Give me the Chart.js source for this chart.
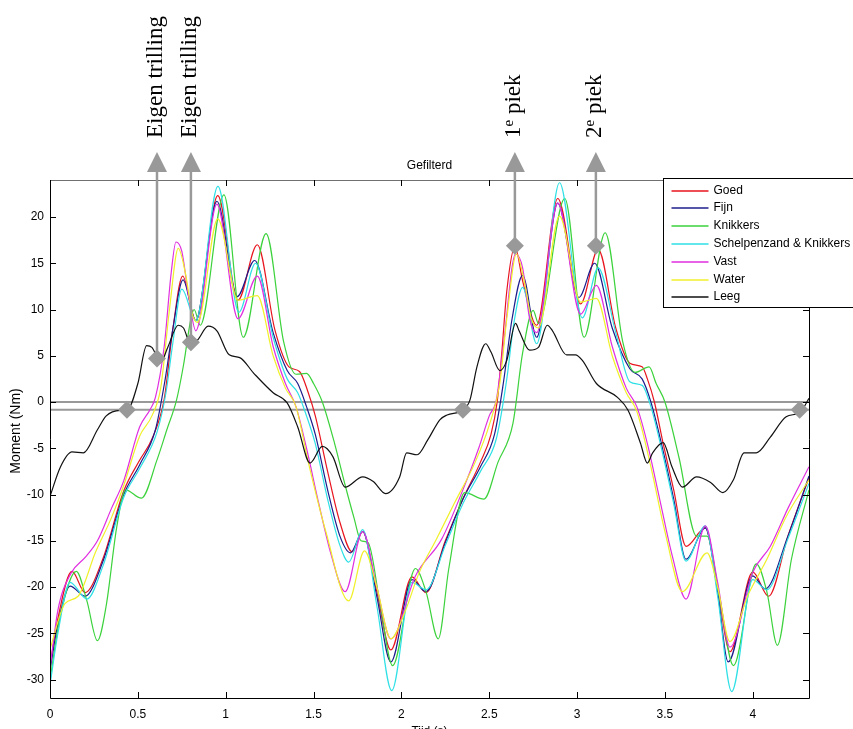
<!DOCTYPE html>
<html>
<head>
<meta charset="utf-8">
<title>Gefilterd</title>
<script src="https://cdn.jsdelivr.net/npm/chart.js@4.4.0/dist/chart.umd.min.js"></script>
<style>
  html, body { margin: 0; padding: 0; background: #fff; }
  #wrap { width: 853px; height: 729px; position: relative; }
</style>
</head>
<body>
<div id="wrap"><canvas id="moment"></canvas></div>
<script>
// Tijd (s) / moment (Nm) per meting
const goedT = [0, 0.045, 0.125, 0.20, 0.30, 0.42, 0.51, 0.58, 0.65, 0.70, 0.755, 0.83, 0.955, 1.07, 1.18, 1.28, 1.36, 1.42, 1.47, 1.51, 1.58, 1.65, 1.72, 1.78, 1.86, 1.94, 2.06, 2.14, 2.25, 2.35, 2.45, 2.51, 2.545, 2.57, 2.60, 2.646, 2.69, 2.75, 2.77, 2.89, 3.02, 3.12, 3.22, 3.30, 3.37, 3.40, 3.44, 3.49, 3.55, 3.62, 3.73, 3.80, 3.87, 4.00, 4.09, 4.20, 4.32];
const goedV = [-28.5, -23.4, -18.3, -20.6, -17.0, -9.6, -6.3, -4.0, 0.3, 8.0, 13.6, 8.8, 22.3, 11.0, 17.0, 7.8, 3.8, 3.3, 1.0, -1.5, -7.5, -13.0, -16.2, -14.0, -20.5, -26.8, -18.9, -20.6, -15.0, -10.5, -6.5, -3.5, 0.0, 5.0, 12.0, 16.8, 13.1, 8.8, 8.3, 22.0, 10.6, 16.5, 8.0, 4.2, 3.8, 2.5, 0.0, -4.5, -9.5, -15.6, -13.6, -20.0, -27.0, -18.4, -21.0, -14.5, -8.2];

const fijnT = [0, 0.045, 0.114, 0.20, 0.30, 0.42, 0.51, 0.60, 0.655, 0.70, 0.757, 0.83, 0.95, 1.065, 1.165, 1.27, 1.35, 1.41, 1.46, 1.51, 1.58, 1.65, 1.71, 1.78, 1.86, 1.94, 2.06, 2.14, 2.25, 2.35, 2.45, 2.53, 2.58, 2.63, 2.69, 2.77, 2.89, 3.01, 3.10, 3.20, 3.30, 3.37, 3.42, 3.48, 3.55, 3.62, 3.73, 3.80, 3.86, 4.00, 4.07, 4.20, 4.32];
const fijnV = [-29.0, -24.0, -19.9, -21.0, -17.3, -10.0, -6.8, -3.0, 2.4, 8.0, 13.2, 8.8, 21.7, 11.4, 15.3, 7.5, 3.4, 2.0, -0.5, -3.5, -9.5, -14.5, -16.3, -14.0, -21.0, -28.1, -19.2, -20.5, -15.2, -10.5, -7.0, -3.5, 2.0, 9.0, 13.7, 7.0, 21.5, 11.3, 15.0, 8.0, 3.6, 2.5, 0.0, -4.5, -10.5, -17.0, -13.6, -20.5, -28.1, -18.8, -20.2, -14.5, -8.0];

const knikkersT = [0, 0.06, 0.15, 0.21, 0.27, 0.32, 0.38, 0.43, 0.52, 0.61, 0.665, 0.72, 0.76, 0.80, 0.82, 0.855, 0.99, 1.10, 1.23, 1.33, 1.40, 1.46, 1.50, 1.55, 1.62, 1.68, 1.73, 1.77, 1.81, 1.88, 1.95, 2.08, 2.14, 2.21, 2.27, 2.36, 2.47, 2.55, 2.635, 2.69, 2.75, 2.78, 2.93, 3.04, 3.16, 3.26, 3.33, 3.41, 3.45, 3.50, 3.58, 3.68, 3.74, 3.81, 3.89, 4.02, 4.08, 4.14, 4.22, 4.32];
const knikkersV = [-30.0, -23.0, -18.3, -21.5, -25.8, -22.0, -13.5, -9.5, -10.4, -6.2, -3.0, 0.2, 4.0, 8.8, 10.0, 8.3, 22.4, 7.0, 18.2, 6.5, 3.0, 3.1, 2.0, 0.0, -4.5, -9.0, -12.5, -15.0, -15.2, -22.0, -28.5, -18.0, -20.5, -25.6, -18.0, -9.8, -10.5, -6.5, -2.3, 5.3, 9.9, 8.5, 22.0, 7.0, 18.3, 6.5, 3.2, 3.8, 2.0, 0.0, -6.0, -14.5, -14.5, -21.0, -28.5, -17.5, -20.5, -26.3, -17.0, -9.5];

const schelpT = [0, 0.045, 0.114, 0.21, 0.30, 0.42, 0.51, 0.61, 0.66, 0.70, 0.75, 0.83, 0.956, 1.075, 1.17, 1.27, 1.35, 1.41, 1.46, 1.51, 1.58, 1.65, 1.70, 1.78, 1.86, 1.945, 2.06, 2.14, 2.25, 2.35, 2.45, 2.54, 2.60, 2.64, 2.69, 2.77, 2.90, 3.03, 3.12, 3.22, 3.30, 3.37, 3.42, 3.48, 3.55, 3.62, 3.73, 3.80, 3.88, 4.00, 4.08, 4.20, 4.32];
const schelpV = [-30.6, -25.0, -19.5, -21.3, -17.8, -10.3, -7.2, -3.2, 1.0, 6.5, 12.2, 8.8, 23.3, 9.7, 15.0, 7.0, 2.5, 1.0, -1.5, -4.5, -10.5, -15.5, -17.3, -13.8, -22.0, -31.2, -19.5, -20.3, -15.5, -11.0, -7.5, -4.0, 2.5, 8.5, 12.4, 6.3, 23.7, 9.1, 14.5, 7.5, 2.2, 1.8, -0.5, -5.0, -11.0, -17.2, -13.4, -21.0, -31.3, -19.2, -20.3, -14.8, -8.8];

const vastT = [0, 0.045, 0.12, 0.20, 0.27, 0.35, 0.42, 0.51, 0.57, 0.60, 0.65, 0.69, 0.717, 0.75, 0.79, 0.83, 0.95, 1.07, 1.18, 1.27, 1.34, 1.40, 1.46, 1.53, 1.60, 1.68, 1.78, 1.86, 1.94, 2.08, 2.23, 2.35, 2.44, 2.50, 2.54, 2.58, 2.65, 2.69, 2.73, 2.77, 2.89, 3.02, 3.11, 3.20, 3.28, 3.34, 3.40, 3.47, 3.54, 3.62, 3.73, 3.80, 3.87, 4.00, 4.10, 4.20, 4.32];
const vastV = [-28.8, -22.5, -18.5, -16.8, -15.0, -11.5, -8.5, -2.7, -0.8, 0.5, 6.0, 14.0, 17.3, 16.3, 11.3, 7.7, 21.4, 9.0, 13.6, 6.0, 2.0, -0.5, -5.0, -11.0, -16.5, -20.5, -14.0, -20.0, -25.6, -18.8, -14.8, -9.5, -5.0, -1.5, 0.2, 6.0, 16.0, 14.5, 9.0, 7.5, 21.5, 9.5, 12.6, 6.0, 1.5, -0.5, -4.5, -10.5, -16.5, -21.3, -13.4, -19.5, -26.5, -18.4, -15.6, -11.5, -7.0];

const waterT = [0, 0.085, 0.16, 0.26, 0.35, 0.42, 0.51, 0.58, 0.63, 0.68, 0.73, 0.77, 0.81, 0.84, 0.955, 1.07, 1.18, 1.27, 1.34, 1.40, 1.47, 1.57, 1.70, 1.79, 1.86, 1.94, 2.02, 2.10, 2.20, 2.30, 2.42, 2.50, 2.56, 2.60, 2.655, 2.70, 2.74, 2.78, 2.90, 3.02, 3.11, 3.20, 3.28, 3.34, 3.42, 3.50, 3.60, 3.74, 3.80, 3.87, 3.97, 4.08, 4.19, 4.32];
const waterV = [-26.7, -21.8, -21.0, -16.2, -12.5, -9.0, -3.7, -1.5, 1.5, 10.0, 16.6, 14.0, 9.5, 8.6, 19.8, 11.0, 11.5, 5.0, 1.5, -0.5, -6.5, -14.0, -21.5, -16.1, -20.0, -25.6, -22.7, -18.5, -14.8, -11.0, -6.5, -2.5, 2.0, 9.0, 16.0, 13.0, 9.0, 8.0, 20.1, 10.8, 11.2, 5.0, 1.0, -1.0, -7.0, -14.0, -20.5, -16.3, -20.0, -25.9, -21.0, -17.0, -12.4, -8.4];

const leegT = [0, 0.06, 0.125, 0.19, 0.27, 0.32, 0.40, 0.44, 0.50, 0.55, 0.58, 0.63, 0.67, 0.73, 0.76, 0.80, 0.84, 0.90, 0.95, 1.02, 1.08, 1.16, 1.27, 1.35, 1.41, 1.48, 1.55, 1.61, 1.68, 1.78, 1.84, 1.91, 1.99, 2.03, 2.09, 2.15, 2.22, 2.26, 2.35, 2.39, 2.43, 2.48, 2.51, 2.56, 2.60, 2.65, 2.67, 2.73, 2.78, 2.83, 2.86, 2.94, 2.99, 3.03, 3.11, 3.23, 3.29, 3.36, 3.40, 3.43, 3.49, 3.54, 3.60, 3.68, 3.76, 3.83, 3.89, 3.95, 4.02, 4.10, 4.19, 4.27, 4.32];
const leegV = [-10.2, -7.0, -5.4, -5.5, -3.0, -1.5, -0.9, -0.85, 2.0, 6.1, 5.9, 4.3, 5.9, 8.3, 8.0, 6.3, 6.7, 8.2, 7.7, 5.1, 4.8, 3.1, 1.0, -0.1, -2.7, -6.6, -4.8, -5.9, -9.2, -8.1, -8.6, -9.9, -8.1, -5.5, -5.7, -4.1, -1.9, -1.4, -0.86, 0.2, 3.8, 6.3, 5.4, 3.4, 4.5, 8.5, 7.7, 5.6, 5.9, 8.3, 7.7, 5.1, 5.1, 4.5, 2.0, 0.5, -0.9, -4.4, -6.6, -5.5, -4.4, -7.0, -9.2, -8.1, -8.7, -9.8, -8.4, -5.5, -5.5, -3.8, -1.6, -1.1, 0.4];

const seriesNames = ['Goed', 'Fijn', 'Knikkers', 'Schelpenzand & Knikkers', 'Vast', 'Water', 'Leeg'];
const seriesColors = ['#e8141e', '#1c1c8c', '#3bd23b', '#2ee0e6', '#e02ee0', '#f0f02a', '#111111'];

const xTicks = [0, 0.5, 1, 1.5, 2, 2.5, 3, 3.5, 4];
const yTicks = [-30, -25, -20, -15, -10, -5, 0, 5, 10, 15, 20];

// grijze hulplijnen en markeringen
const refLevels = [0, -0.85];
const markT = [0.438, 2.35, 4.267];
const markV = [-0.85, -0.85, -0.85];
const arrowT = [0.609, 0.802, 2.646, 3.107];
const arrowV = [4.7, 6.45, 16.9, 16.9];
const arrowMain = ['Eigen trilling', 'Eigen trilling', '1', '2'];
const arrowSup = ['', '', 'e', 'e'];
const arrowTail = ['', '', ' piek', ' piek'];

const pairs = (ts, vs) => ts.map((t, i) => ({ x: t, y: vs[i] }));
const allData = [
  pairs(goedT, goedV), pairs(fijnT, fijnV), pairs(knikkersT, knikkersV),
  pairs(schelpT, schelpV), pairs(vastT, vastV), pairs(waterT, waterV), pairs(leegT, leegV)
];

const SANS = '"Liberation Sans", Arial, sans-serif';
const SERIF = '"Liberation Serif", "Times New Roman", serif';
const GREY = '#999999';

function diamond(ctx, px, py, r) {
  ctx.beginPath();
  ctx.moveTo(px, py - r);
  ctx.lineTo(px + r, py);
  ctx.lineTo(px, py + r);
  ctx.lineTo(px - r, py);
  ctx.closePath();
  ctx.fill();
}

const matlabLook = {
  id: 'matlabLook',
  beforeDatasetsDraw(chart) {
    const { ctx, chartArea: a, scales: { y } } = chart;
    ctx.save();
    ctx.strokeStyle = GREY;
    ctx.lineWidth = 2;
    refLevels.forEach(v => {
      const py = y.getPixelForValue(v);
      ctx.beginPath();
      ctx.moveTo(a.left, py);
      ctx.lineTo(a.right, py);
      ctx.stroke();
    });
    ctx.restore();
  },
  afterDatasetsDraw(chart) {
    const { ctx, chartArea: a, scales: { x, y } } = chart;
    ctx.save();

    // assenkader met tickjes naar binnen
    ctx.lineWidth = 1;
    ctx.strokeStyle = '#000';
    ctx.beginPath();
    ctx.moveTo(a.left + 0.5, a.top);
    ctx.lineTo(a.left + 0.5, a.bottom + 0.5);
    ctx.lineTo(a.right + 0.5, a.bottom + 0.5);
    ctx.lineTo(a.right + 0.5, a.top);
    ctx.stroke();
    ctx.strokeStyle = '#707070';
    ctx.beginPath();
    ctx.moveTo(a.left, a.top + 0.5);
    ctx.lineTo(a.right + 1, a.top + 0.5);
    ctx.stroke();
    ctx.strokeStyle = '#000';
    ctx.beginPath();
    xTicks.forEach(t => {
      const px = Math.round(x.getPixelForValue(t)) + 0.5;
      ctx.moveTo(px, a.bottom);
      ctx.lineTo(px, a.bottom - 6);
      ctx.moveTo(px, a.top);
      ctx.lineTo(px, a.top + 6);
    });
    yTicks.forEach(v => {
      const py = Math.round(y.getPixelForValue(v)) + 0.5;
      ctx.moveTo(a.left, py);
      ctx.lineTo(a.left + 6, py);
      ctx.moveTo(a.right, py);
      ctx.lineTo(a.right - 6, py);
    });
    ctx.stroke();

    // markeringen
    ctx.fillStyle = GREY;
    markT.forEach((t, i) => diamond(ctx, x.getPixelForValue(t), y.getPixelForValue(markV[i]), 9));

    // pijlen met tekst
    ctx.strokeStyle = GREY;
    ctx.lineWidth = 2.5;
    arrowT.forEach((t, i) => {
      const px = x.getPixelForValue(t);
      const py = y.getPixelForValue(arrowV[i]);
      const head = a.top - 28;
      ctx.beginPath();
      ctx.moveTo(px, py);
      ctx.lineTo(px, head + 18);
      ctx.stroke();
      ctx.beginPath();
      ctx.moveTo(px, head);
      ctx.lineTo(px + 10, head + 20);
      ctx.lineTo(px - 10, head + 20);
      ctx.closePath();
      ctx.fill();
      diamond(ctx, px, py, 9);

      ctx.save();
      ctx.translate(px + 5, a.top - 42);
      ctx.rotate(-Math.PI / 2);
      ctx.fillStyle = '#000';
      ctx.textBaseline = 'alphabetic';
      ctx.textAlign = 'left';
      ctx.font = '23px ' + SERIF;
      ctx.fillText(arrowMain[i], 0, 0);
      let off = ctx.measureText(arrowMain[i]).width;
      if (arrowSup[i]) {
        ctx.font = '15px ' + SERIF;
        ctx.fillText(arrowSup[i], off, -7);
        off += ctx.measureText(arrowSup[i]).width;
        ctx.font = '23px ' + SERIF;
        ctx.fillText(arrowTail[i], off, 0);
      }
      ctx.restore();
    });

    // titels
    ctx.fillStyle = '#000';
    ctx.font = '12px ' + SANS;
    ctx.textAlign = 'center';
    ctx.textBaseline = 'middle';
    ctx.fillText('Gefilterd', (a.left + a.right) / 2, a.top - 14);
    ctx.textBaseline = 'top';
    ctx.fillText('Tijd (s)', (a.left + a.right) / 2, a.bottom + 28);
    ctx.save();
    ctx.translate(16, (a.top + a.bottom) / 2 - 8);
    ctx.rotate(-Math.PI / 2);
    ctx.textBaseline = 'middle';
    ctx.font = '14px ' + SANS;
    ctx.fillText('Moment (Nm)', 0, 0);
    ctx.restore();

    // legenda
    const lx = 663.5, ly = 178.5;
    ctx.fillStyle = '#fff';
    ctx.fillRect(lx, ly, 260, 129);
    ctx.strokeStyle = '#000';
    ctx.lineWidth = 1;
    ctx.strokeRect(lx, ly, 260, 129);
    ctx.font = '12px ' + SANS;
    ctx.textAlign = 'left';
    ctx.textBaseline = 'middle';
    chart.data.datasets.forEach((ds, i) => {
      const ry = Math.round(ly + 12 + i * 17.8);
      ctx.strokeStyle = ds.borderColor;
      ctx.lineWidth = 1.3;
      ctx.beginPath();
      ctx.moveTo(lx + 8, ry);
      ctx.lineTo(lx + 45, ry);
      ctx.stroke();
      ctx.fillStyle = '#000';
      ctx.fillText(ds.label, lx + 50, ry);
    });
    ctx.restore();
  }
};

new Chart(document.getElementById('moment'), {
  type: 'line',
  data: {
    datasets: seriesNames.map((name, i) => ({
      label: name,
      data: allData[i],
      borderColor: seriesColors[i],
      backgroundColor: seriesColors[i],
      borderWidth: 1.2,
      pointRadius: 0,
      cubicInterpolationMode: 'monotone',
      order: seriesNames.length - i
    }))
  },
  options: {
    responsive: true,
    maintainAspectRatio: false,
    animation: false,
    events: [],
    layout: { padding: { left: 0, right: 44, top: 180, bottom: 0 } },
    plugins: { legend: { display: false }, title: { display: false }, tooltip: { enabled: false } },
    scales: {
      x: {
        type: 'linear',
        min: 0,
        max: 4.32,
        grid: { display: false, drawTicks: false },
        border: { display: false },
        afterBuildTicks: s => { s.ticks = xTicks.map(v => ({ value: v })); },
        afterFit: s => { s.height = 31; },
        ticks: {
          color: '#000',
          padding: 9,
          maxRotation: 0,
          autoSkip: false,
          font: { family: SANS, size: 12 },
          callback: v => String(v)
        }
      },
      y: {
        min: -32,
        max: 24,
        grid: { display: false, drawTicks: false },
        border: { display: false },
        afterBuildTicks: s => { s.ticks = yTicks.map(v => ({ value: v })); },
        afterFit: s => { s.width = 50; },
        ticks: {
          color: '#000',
          padding: 6,
          font: { family: SANS, size: 12 },
          callback: v => String(v)
        }
      }
    }
  },
  plugins: [matlabLook]
});
</script>
</body>
</html>
